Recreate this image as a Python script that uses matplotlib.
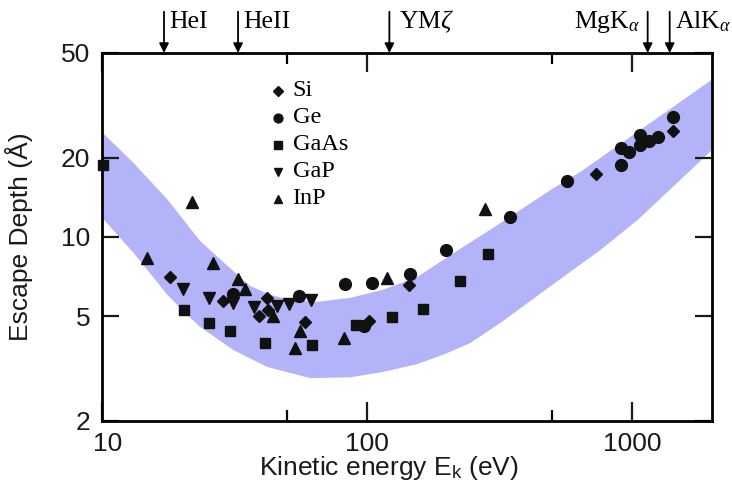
import matplotlib
matplotlib.use('Agg')
import matplotlib.pyplot as plt
from matplotlib.ticker import FixedLocator, NullFormatter
from matplotlib.transforms import ScaledTranslation

plt.rcParams['font.family'] = ['Liberation Sans', 'DejaVu Sans']
plt.rcParams['mathtext.fontset'] = 'custom'
plt.rcParams['mathtext.rm'] = 'Liberation Serif'
plt.rcParams['mathtext.it'] = 'Liberation Serif:italic'
plt.rcParams['mathtext.sf'] = 'Liberation Sans'

# universal curve band: kinetic energy (eV), upper and lower escape depth (A)
band_upper_e = [10, 13.2, 17.7, 23.5, 29.8, 36.3, 43.2, 51.4, 65.1, 86.6, 115, 155, 225, 311, 493, 639, 761, 2000]
band_upper_d = [25.1, 19.1, 13.9, 9.67, 7.77, 6.52, 6.03, 5.77, 5.67, 5.87, 6.3, 7.05, 9.02, 11.1, 15.1, 17.7, 20.0, 39.6]
band_lower_e = [10, 13.2, 17.7, 20.3, 23.5, 31.4, 42.1, 61.2, 86.6, 115, 155, 198, 246, 319, 414, 537, 761, 1049, 2000]
band_lower_d = [11.9, 8.71, 6.03, 5.24, 4.56, 3.72, 3.21, 2.91, 2.93, 3.07, 3.29, 3.60, 3.96, 4.72, 5.72, 6.93, 8.94, 11.6, 21.4]

si_e = [18.1, 28.6, 42.0, 39.1, 42.5, 58.3, 101.6, 144.7, 728, 1428]
si_d = [7.06, 5.73, 5.88, 5.01, 5.26, 4.75, 4.80, 6.55, 17.4, 25.3]

ge_e = [31.3, 55.3, 83.0, 104.9, 145.0, 198.3, 347, 567, 907, 910, 972, 1070, 1070, 1162, 1248, 1428, 97.3]
ge_d = [6.08, 5.98, 6.64, 6.71, 7.25, 8.90, 11.9, 16.3, 18.7, 21.7, 21.1, 24.4, 22.4, 23.1, 24.0, 28.5, 4.59]

gaas_e = [10.15, 20.4, 25.5, 30.4, 41.3, 62.3, 91.3, 124.5, 163.4, 224.3, 285.6]
gaas_d = [18.7, 5.29, 4.72, 4.38, 3.97, 3.88, 4.65, 4.97, 5.33, 6.80, 8.63]

gap_e = [20.2, 25.5, 31.2, 37.4, 45.8, 51.1, 61.8]
gap_d = [6.35, 5.88, 5.59, 5.43, 5.46, 5.56, 5.77]

inp_e = [14.8, 22.0, 26.4, 32.6, 34.6, 44.2, 56.0, 53.6, 81.8, 119.5, 278]
inp_d = [8.31, 13.6, 7.96, 6.95, 6.34, 5.02, 4.41, 3.78, 4.15, 6.98, 12.8]

# photon sources marked on top
source_names = ['HeI', 'HeII', r'YM$\zeta$', r'MgK$_\alpha$', r'AlK$_\alpha$']
source_e = [17.2, 32.7, 121.6, 1144, 1385]

fig = plt.figure(figsize=(7.32, 4.94), dpi=100)
ax = fig.add_axes([0.1387, 0.1478, 0.834, 0.745])

ax.set_xscale('log')
ax.set_yscale('log')
ax.set_xlim(10, 2000)
ax.set_ylim(2, 50)

ax.fill(band_upper_e + band_lower_e[::-1], band_upper_d + band_lower_d[::-1],
        color='#b3b3fa', lw=0, zorder=1)

series = [
    ('Si', si_e, si_d, 'D', 6.5),
    ('Ge', ge_e, ge_d, 'o', 8.5),
    ('GaAs', gaas_e, gaas_d, 's', 7.5),
    ('GaP', gap_e, gap_d, 'v', 8.5),
    ('InP', inp_e, inp_d, '^', 8.5),
]
for name, e, d, m, ms in series:
    ax.plot(e, d, ls='none', marker=m, ms=ms, color='#111111', zorder=3, clip_on=False)

# legend drawn by hand
for i, (name, e, d, m, ms) in enumerate(series):
    y = 0.897 - i * 0.0734
    ax.plot([0.289], [y], marker=m, ms=ms * 0.75, color='#111111', transform=ax.transAxes)
    ax.text(0.313, y, name, transform=ax.transAxes, va='center', ha='left',
            fontsize=17.5, family='Liberation Serif')

# arrows for photon sources
for i, (name, e) in enumerate(zip(source_names, source_e)):
    ax.annotate('', xy=(e, 1.0), xytext=(e, 1.112),
                xycoords=('data', 'axes fraction'),
                arrowprops=dict(arrowstyle='-|>', color='black', lw=1.3,
                                mutation_scale=14, shrinkA=0, shrinkB=0),
                annotation_clip=False)
    if name.startswith('Mg'):
        off, ha = -5, 'right'
    elif name.startswith('Y'):
        off, ha = 7, 'left'
    else:
        off, ha = 4, 'left'
    ax.annotate(name, xy=(e, 1.068), xycoords=('data', 'axes fraction'),
                xytext=(off, 0), textcoords='offset points', ha=ha, va='baseline',
                fontsize=18.5, family='Liberation Serif', annotation_clip=False)

ax.xaxis.set_major_locator(FixedLocator([10, 100, 1000]))
ax.xaxis.set_minor_locator(FixedLocator([50, 500]))
ax.xaxis.set_minor_formatter(NullFormatter())
ax.set_xticklabels(['10', '100', '1000'])
ax.yaxis.set_major_locator(FixedLocator([2, 5, 10, 20, 50]))
ax.yaxis.set_minor_locator(FixedLocator([]))
ax.set_yticklabels(['2', '5', '10', '20', '50'])

ax.tick_params(axis='x', which='major', direction='in', length=14, width=1.6,
               top=True, labelsize=19, pad=8, colors='#1a1a1a')
ax.tick_params(axis='x', which='minor', direction='in', length=8, width=1.6, top=True)
ax.tick_params(axis='y', which='major', direction='in', length=12, width=1.6,
               right=True, labelsize=19, pad=8, colors='#1a1a1a')

# nudge the "10" label a little to the right, off the corner
lbl = ax.get_xticklabels()[0]
lbl.set_transform(lbl.get_transform() + ScaledTranslation(6 / 100, 0, fig.dpi_scale_trans))

for s in ax.spines.values():
    s.set_linewidth(2.0)

ax.set_xlabel(r'Kinetic energy E$_{\mathsf{k}}$ (eV)', fontsize=19, color='#1a1a1a')
ax.xaxis.set_label_coords(0.471, -0.09)
ax.set_ylabel('Escape Depth (Å)', fontsize=19, color='#1a1a1a')
ax.yaxis.set_label_coords(-0.112, 0.5)

fig.savefig('out.png', dpi=100)
